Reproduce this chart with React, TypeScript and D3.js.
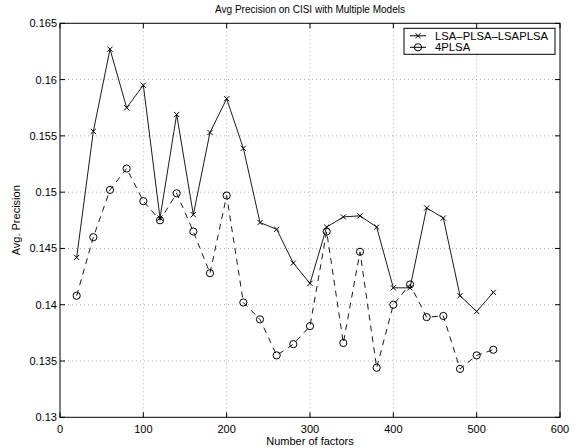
import React from "react";
import * as d3 from "d3";

const factors = [20, 40, 60, 80, 100, 120, 140, 160, 180, 200, 220, 240, 260, 280, 300, 320, 340, 360, 380, 400, 420, 440, 460, 480, 500, 520];
const lsaPlsa = [0.1442, 0.1554, 0.1627, 0.1575, 0.1595, 0.1477, 0.1569, 0.1480, 0.1553, 0.1583, 0.1539, 0.1473, 0.1467, 0.1437, 0.1419, 0.1469, 0.1478, 0.1479, 0.1469, 0.1415, 0.1415, 0.1486, 0.1477, 0.1408, 0.1394, 0.1411];
const plsa4 = [0.1408, 0.1460, 0.1502, 0.1521, 0.1492, 0.1475, 0.1499, 0.1465, 0.1428, 0.1497, 0.1402, 0.1387, 0.1355, 0.1365, 0.1381, 0.1465, 0.1366, 0.1447, 0.1344, 0.1400, 0.1418, 0.1389, 0.1390, 0.1343, 0.1355, 0.1360];
const xTicks = [0, 100, 200, 300, 400, 500, 600];
const yTicks = [0.13, 0.135, 0.14, 0.145, 0.15, 0.155, 0.16, 0.165];
const seriesNames = ["LSA\u2013PLSA\u2013LSAPLSA", "4PLSA"];

const W = 575;
const H = 448;
const left = 60;
const right = 560;
const top = 23.3;
const bottom = 417.3;
const font = "'Liberation Sans', Arial, Helvetica, sans-serif";

export default function App() {
  const x = d3.scaleLinear().domain([0, 600]).range([left, right]);
  const y = d3.scaleLinear().domain([0.13, 0.165]).range([bottom, top]);
  const line = d3
    .line<number>()
    .x((_, i) => x(factors[i]))
    .y((d) => y(d));

  const cross = (cx: number, cy: number, k: string) => (
    <path
      key={k}
      d={`M${cx - 2.6},${cy - 2.6}L${cx + 2.6},${cy + 2.6}M${cx - 2.6},${cy + 2.6}L${cx + 2.6},${cy - 2.6}`}
      stroke="#000"
      strokeWidth={1}
    />
  );
  const circ = (cx: number, cy: number, k: string) => (
    <circle key={k} cx={cx} cy={cy} r={3.6} fill="none" stroke="#000" strokeWidth={1} />
  );

  const legX = 404;
  const legY = 28.3;

  return (
    <svg
      width={W}
      height={H}
      style={{ position: "absolute", left: 0, top: 0, background: "#fff" }}
      fontFamily={font}
    >
      <rect x={0} y={0} width={W} height={H} fill="#fff" />
      {/* grid */}
      {xTicks.slice(1, -1).map((t) => (
        <line key={"gx" + t} x1={x(t)} x2={x(t)} y1={top} y2={bottom} stroke="#777" strokeWidth={0.6} strokeDasharray="1,3" />
      ))}
      {yTicks.slice(1, -1).map((t) => (
        <line key={"gy" + t} x1={left} x2={right} y1={y(t)} y2={y(t)} stroke="#777" strokeWidth={0.6} strokeDasharray="1,3" />
      ))}
      {/* ticks */}
      {xTicks.map((t) => (
        <g key={"tx" + t}>
          <line x1={x(t)} x2={x(t)} y1={bottom} y2={bottom - 5} stroke="#000" />
          <line x1={x(t)} x2={x(t)} y1={top} y2={top + 5} stroke="#000" />
          <text x={x(t)} y={433} fontSize={11} textAnchor="middle">{t}</text>
        </g>
      ))}
      {yTicks.map((t) => (
        <g key={"ty" + t}>
          <line x1={left} x2={left + 5} y1={y(t)} y2={y(t)} stroke="#000" />
          <line x1={right} x2={right - 5} y1={y(t)} y2={y(t)} stroke="#000" />
          <text x={left - 3} y={y(t) + 4} fontSize={11} textAnchor="end">{d3.format("")(t)}</text>
        </g>
      ))}
      <rect x={left} y={top} width={right - left} height={bottom - top} fill="none" stroke="#000" strokeWidth={1} />

      {/* series */}
      <path d={line(lsaPlsa) || ""} fill="none" stroke="#000" strokeWidth={0.9} />
      {lsaPlsa.map((v, i) => cross(x(factors[i]), y(v), "c" + i))}
      <path d={line(plsa4) || ""} fill="none" stroke="#000" strokeWidth={0.9} strokeDasharray="6,5" />
      {plsa4.map((v, i) => circ(x(factors[i]), y(v), "o" + i))}

      {/* legend */}
      <rect x={legX} y={legY} width={151} height={26} fill="#fff" stroke="#000" strokeWidth={1} />
      <line x1={legX + 6} x2={legX + 22} y1={legY + 7.5} y2={legY + 7.5} stroke="#000" />
      {cross(legX + 14, legY + 7.5, "lc")}
      <text x={legX + 31} y={legY + 11.5} fontSize={11.3}>{seriesNames[0]}</text>
      <line x1={legX + 6} x2={legX + 22} y1={legY + 19} y2={legY + 19} stroke="#000" />
      {circ(legX + 14, legY + 19, "lo")}
      <text x={legX + 31} y={legY + 23} fontSize={11.3}>{seriesNames[1]}</text>

      {/* titles */}
      <text x={(left + right) / 2} y={13} fontSize={10} textAnchor="middle">Avg Precision on CISI with Multiple Models</text>
      <text x={(left + right) / 2} y={445} fontSize={11} textAnchor="middle">Number of factors</text>
      <text transform={`translate(20,${(top + bottom) / 2}) rotate(-90)`} fontSize={11} textAnchor="middle">Avg. Precision</text>
    </svg>
  );
}
